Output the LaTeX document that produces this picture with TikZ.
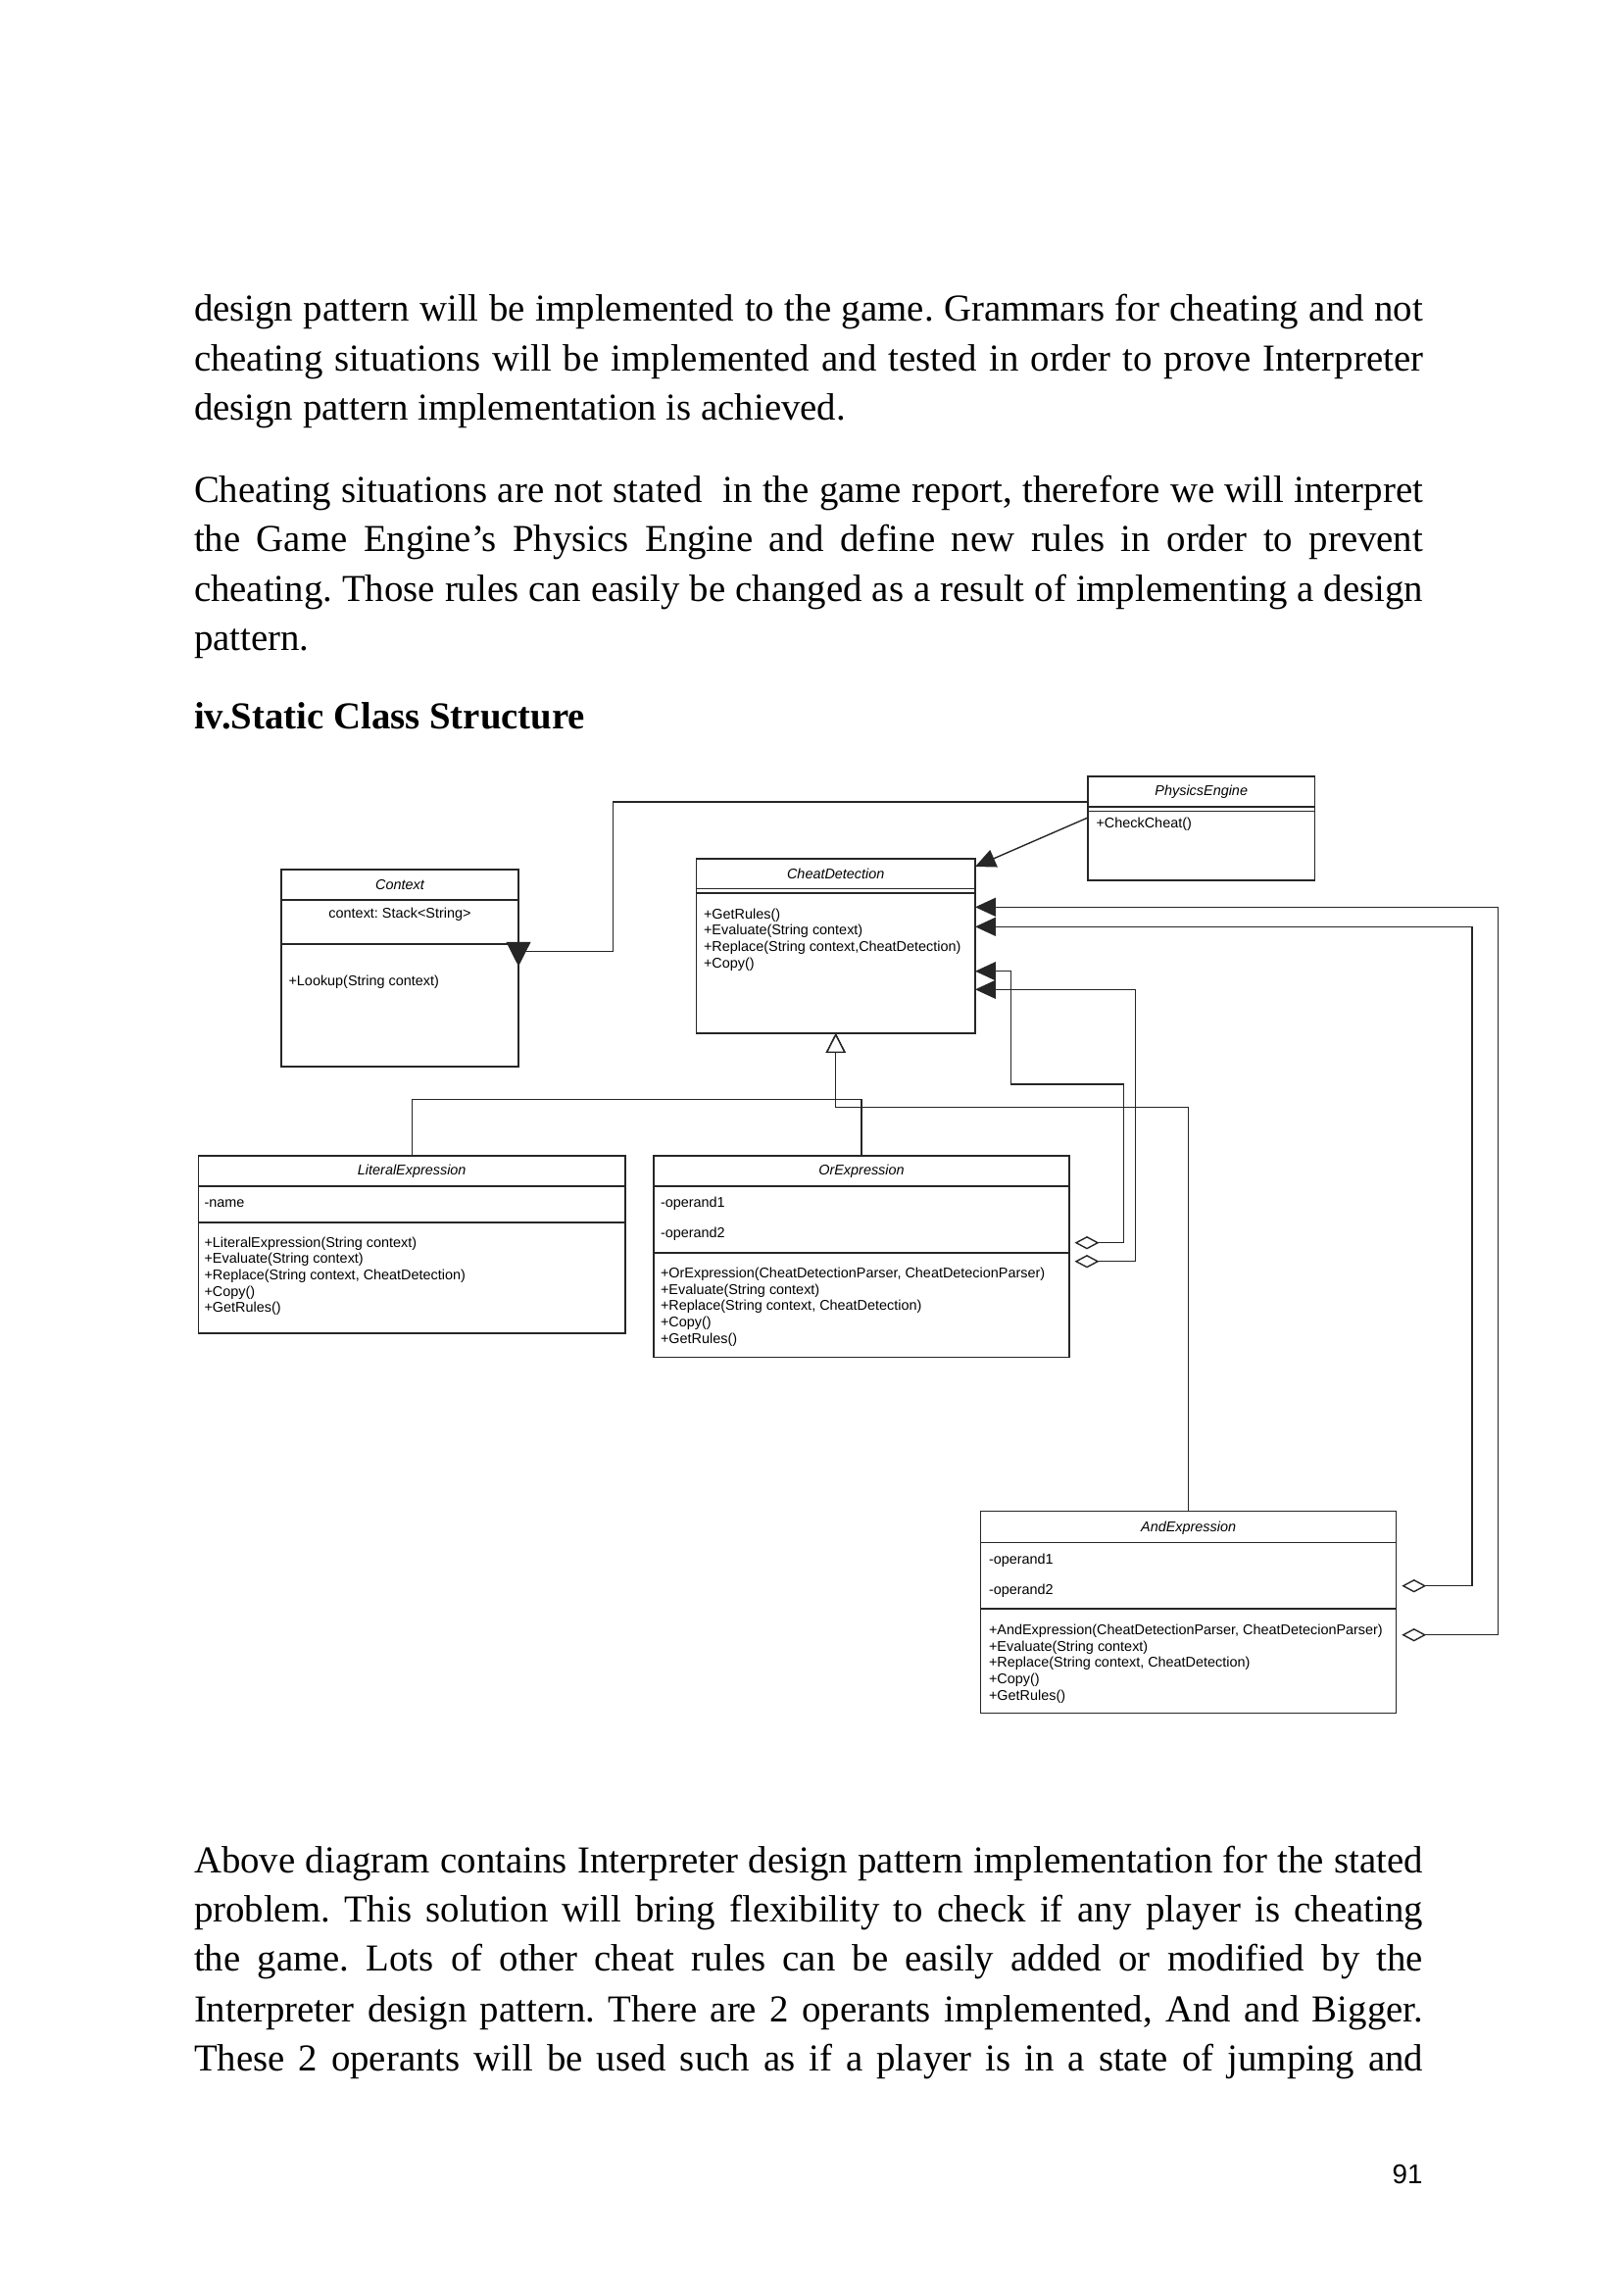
\documentclass[tikz,border=0pt]{standalone}
\usepackage{fontspec}
\setmainfont{Liberation Serif}
\newfontfamily\umlfont{Liberation Sans}
\usetikzlibrary{arrows.meta}
\newlength{\px}
\setlength{\px}{0.0126812cm}
\newcommand{\jline}[1]{\makebox[1254\px][s]{#1}}
\frenchspacing
\begin{document}
\begin{tikzpicture}
  [x=0.0126812cm,y=-0.0126812cm,
  bodyline/.style={anchor=base west,inner sep=0,outer sep=0,
                  font=\fontsize{14}{18}\selectfont},
  umlbox/.style={rectangle,draw=black!85,line width=0.5pt,inner sep=0,
                  outer sep=0},
  umltitle/.style={inner sep=0,font=\umlfont\itshape\fontsize{5.2}{6}\selectfont},
  umltext/.style={inner sep=0,anchor=base west,align=left,
                  font=\umlfont\fontsize{5.2}{6}\selectfont},
  sep/.style={draw=black!85,line width=0.5pt},
  assoc/.style={draw=black!85,line width=0.5pt,
                  -{Triangle[length=7.5pt,width=6.8pt]}},
  aggr/.style={draw=black!85,line width=0.5pt,shorten <=2pt,
                  {Diamond[open,length=9pt,width=4.8pt,fill=white]}-{Triangle[length=7.5pt,width=6.8pt]}},
  inherit/.style={draw=black!85,line width=0.5pt,
                  -{Triangle[open,length=7.2pt,width=7.2pt,fill=white]}}
                  ]
  \fill[white] (0,0) rectangle (1656,2339);
  \useasboundingbox (0,0) rectangle (1656,2339);

  % text above
  \node[bodyline] (p1a) at (198,327) {\jline{design pattern will be implemented to the game. Grammars for cheating and not}};
  \node[bodyline] (p1b) at (198,378) {\jline{cheating situations will be implemented and tested in order to prove Interpreter}};
  \node[bodyline] (p1c) at (198,428) {design pattern implementation is achieved.};
  \node[bodyline] (p2a) at (198,512) {\jline{Cheating situations are not stated \ in the game report, therefore we will interpret}};
  \node[bodyline] (p2b) at (198,562) {\jline{the Game Engine’s Physics Engine and define new rules in order to prevent}};
  \node[bodyline] (p2c) at (198,613) {\jline{cheating. Those rules can easily be changed as a result of implementing a design}};
  \node[bodyline] (p2d) at (198,663) {pattern.};
  \node[bodyline,font=\bfseries\fontsize{14}{18}\selectfont] (head) at (198,743) {iv.Static Class Structure};

  % classes (multi-line texts sit on the baseline of their last line)
  \node[umlbox,minimum width=242\px,minimum height=201\px] (context) at (408,987.5) {};
  \draw[sep] (context.west |- 0,918) -- (context.east |- 0,918);
  \draw[sep] (context.west |- 0,963) -- (context.east |- 0,963);
  \node[umltitle] (contextt) at (408,903) {Context};
  \node[umltext,anchor=base] (contexta) at (408,936) {context: Stack<String>};
  \node[umltext] (contextm) at (294,1005) {+Lookup(String context)};

  \node[umlbox,minimum width=284.5\px,minimum height=178\px] (cheat) at (852.75,965) {};
  \draw[sep] (cheat.west |- 0,906.7) -- (cheat.east |- 0,906.7);
  \draw[sep] (cheat.west |- 0,911) -- (cheat.east |- 0,911);
  \node[umltitle] (cheatt) at (852.75,891) {CheatDetection};
  \node[umltext] (cheatm) at (717.5,987) {+GetRules()\\+Evaluate(String context)\\
    +Replace(String context,CheatDetection)\\+Copy()};

  \node[umlbox,minimum width=231.5\px,minimum height=106\px] (physics) at (1225.75,845) {};
  \draw[sep] (physics.west |- 0,823) -- (physics.east |- 0,823);
  \draw[sep] (physics.west |- 0,827.7) -- (physics.east |- 0,827.7);
  \node[umltitle] (physicst) at (1225.75,807.7) {PhysicsEngine};
  \node[umltext] (physicsm) at (1118,844) {+CheckCheat()};

  \node[umlbox,minimum width=435.5\px,minimum height=181\px] (literal) at (420.25,1269.5) {};
  \draw[sep] (literal.west |- 0,1210) -- (literal.east |- 0,1210);
  \draw[sep] (literal.west |- 0,1247) -- (literal.east |- 0,1247);
  \node[umltitle] (literalt) at (420.25,1195) {LiteralExpression};
  \node[umltext] (literala) at (208,1231) {-name};
  \node[umltext] (literalm) at (208,1338.7) {+LiteralExpression(String context)\\
    +Evaluate(String context)\\+Replace(String context, CheatDetection)\\+Copy()\\+GetRules()};

  \node[umlbox,minimum width=424\px,minimum height=205.5\px] (orexpr) at (879,1281.75) {};
  \draw[sep] (orexpr.west |- 0,1210) -- (orexpr.east |- 0,1210);
  \draw[sep] (orexpr.west |- 0,1278) -- (orexpr.east |- 0,1278);
  \node[umltitle] (orexprt) at (879,1195) {OrExpression};
  \node[umltext] (orexpra) at (673.5,1231) {-operand1};
  \node[umltext] (orexprb) at (673.5,1262) {-operand2};
  \node[umltext] (orexprm) at (673.5,1370.2) {+OrExpression(CheatDetectionParser, CheatDetecionParser)\\
    +Evaluate(String context)\\+Replace(String context, CheatDetection)\\+Copy()\\+GetRules()};

  \node[umlbox,minimum width=424.2\px,minimum height=206\px] (andexpr) at (1212.6,1644.7) {};
  \draw[sep] (andexpr.west |- 0,1573.3) -- (andexpr.east |- 0,1573.3);
  \draw[sep] (andexpr.west |- 0,1641) -- (andexpr.east |- 0,1641);
  \node[umltitle] (andexprt) at (1212.6,1558.3) {AndExpression};
  \node[umltext] (andexpra) at (1008.5,1595) {-operand1};
  \node[umltext] (andexprb) at (1008.5,1626) {-operand2};
  \node[umltext] (andexprm) at (1008.5,1734.2) {+AndExpression(CheatDetectionParser, CheatDetecionParser)\\
    +Evaluate(String context)\\+Replace(String context, CheatDetection)\\+Copy()\\+GetRules()};

  % connectors
  \draw[assoc,-{Triangle[length=9pt,width=9pt]}] (physics.west |- 0,818) -- (625.7,818)
    -- (625.7,970.7) -| (context.east |- 0,985.7);
  \draw[assoc] (physics.west |- 0,834) -- (cheat.east |- 0,884);
  \draw[aggr] (andexpr.east |- 0,1667.7) -- (1528.7,1667.7) -- (1528.7,925.3)
    -- (cheat.east |- 0,925.3);
  \draw[aggr] (andexpr.east |- 0,1617.7) -- (1501.8,1617.7) -- (1501.8,945.3)
    -- (cheat.east |- 0,945.3);
  \draw[aggr] (orexpr.east |- 0,1267.7) -- (1146.4,1267.7) -- (1146.4,1106)
    -- (1031.3,1106) -- (1031.3,990.7) -- (cheat.east |- 0,990.7);
  \draw[aggr] (orexpr.east |- 0,1286.7) -- (1158.6,1286.7) -- (1158.6,1009.3)
    -- (cheat.east |- 0,1009.3);
  \draw[inherit] (literal.north) -- (420.25,1121.7) -| (cheat.south);
  \draw[inherit] (orexpr.north) -- (879,1121.7) -| (cheat.south);
  \draw[inherit] (andexpr.north) -- (1212.6,1129.3) -| (cheat.south);

  % text below
  \node[bodyline] (p3a) at (198,1910) {\jline{Above diagram contains Interpreter design pattern implementation for the stated}};
  \node[bodyline] (p3b) at (198,1960) {\jline{problem. This solution will bring flexibility to check if any player is cheating}};
  \node[bodyline] (p3c) at (198,2010) {\jline{the game. Lots of other cheat rules can be easily added or modified by the}};
  \node[bodyline] (p3d) at (198,2062) {\jline{Interpreter design pattern. There are 2 operants implemented, And and Bigger.}};
  \node[bodyline] (p3e) at (198,2112) {\jline{These 2 operants will be used such as if a player is in a state of jumping and}};
  \node[inner sep=0,anchor=base east,font=\umlfont\fontsize{10}{12}\selectfont] (pagenum) at (1452,2227) {91};
\end{tikzpicture}
\end{document}
